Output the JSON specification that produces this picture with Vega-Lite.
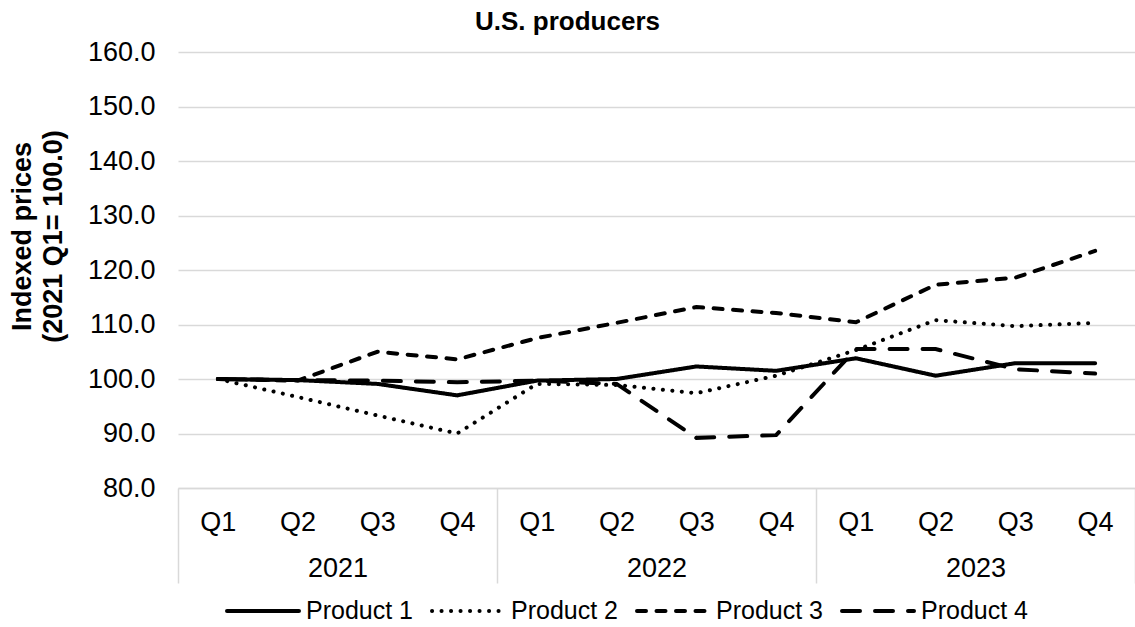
{
  "$schema": "https://vega.github.io/schema/vega-lite/v6.json",
  "width": 957,
  "height": 436,
  "autosize": {"type": "none"},
  "padding": {"left": 178, "top": 52, "right": 0, "bottom": 139},
  "title": {"text": "U.S. producers", "fontSize": 26, "fontWeight": "bold", "font": "Liberation Sans", "color": "#000000", "anchor": "middle", "frame": "group", "baseline": "bottom", "offset": -23, "dx": -89},
  "config": {
    "view": {"stroke": null},
    "font": "Liberation Sans",
    "axis": {"labelColor": "#000000", "titleColor": "#000000", "labelFont": "Liberation Sans", "titleFont": "Liberation Sans"},
    "legend": {"labelFont": "Liberation Sans", "labelColor": "#000000"}
  },
  "datasets": {
    "prices": [
      {"period": "2021 Q1", "product": "Product 1", "value": 100.0},
      {"period": "2021 Q2", "product": "Product 1", "value": 99.8},
      {"period": "2021 Q3", "product": "Product 1", "value": 99.1},
      {"period": "2021 Q4", "product": "Product 1", "value": 97.0},
      {"period": "2022 Q1", "product": "Product 1", "value": 99.7},
      {"period": "2022 Q2", "product": "Product 1", "value": 100.0},
      {"period": "2022 Q3", "product": "Product 1", "value": 102.3},
      {"period": "2022 Q4", "product": "Product 1", "value": 101.5},
      {"period": "2023 Q1", "product": "Product 1", "value": 103.8},
      {"period": "2023 Q2", "product": "Product 1", "value": 100.6},
      {"period": "2023 Q3", "product": "Product 1", "value": 102.9},
      {"period": "2023 Q4", "product": "Product 1", "value": 102.9},
      {"period": "2021 Q1", "product": "Product 2", "value": 100.0},
      {"period": "2021 Q2", "product": "Product 2", "value": 96.7},
      {"period": "2021 Q3", "product": "Product 2", "value": 93.3},
      {"period": "2021 Q4", "product": "Product 2", "value": 90.0},
      {"period": "2022 Q1", "product": "Product 2", "value": 99.1},
      {"period": "2022 Q2", "product": "Product 2", "value": 98.9},
      {"period": "2022 Q3", "product": "Product 2", "value": 97.4},
      {"period": "2022 Q4", "product": "Product 2", "value": 100.6},
      {"period": "2023 Q1", "product": "Product 2", "value": 105.3},
      {"period": "2023 Q2", "product": "Product 2", "value": 110.8},
      {"period": "2023 Q3", "product": "Product 2", "value": 109.7},
      {"period": "2023 Q4", "product": "Product 2", "value": 110.3},
      {"period": "2021 Q1", "product": "Product 3", "value": 100.0},
      {"period": "2021 Q2", "product": "Product 3", "value": 99.7},
      {"period": "2021 Q3", "product": "Product 3", "value": 105.0},
      {"period": "2021 Q4", "product": "Product 3", "value": 103.6},
      {"period": "2022 Q1", "product": "Product 3", "value": 107.5},
      {"period": "2022 Q2", "product": "Product 3", "value": 110.3},
      {"period": "2022 Q3", "product": "Product 3", "value": 113.2},
      {"period": "2022 Q4", "product": "Product 3", "value": 112.1},
      {"period": "2023 Q1", "product": "Product 3", "value": 110.4},
      {"period": "2023 Q2", "product": "Product 3", "value": 117.3},
      {"period": "2023 Q3", "product": "Product 3", "value": 118.6},
      {"period": "2023 Q4", "product": "Product 3", "value": 123.5},
      {"period": "2021 Q1", "product": "Product 4", "value": 100.0},
      {"period": "2021 Q2", "product": "Product 4", "value": 99.8},
      {"period": "2021 Q3", "product": "Product 4", "value": 99.7},
      {"period": "2021 Q4", "product": "Product 4", "value": 99.4},
      {"period": "2022 Q1", "product": "Product 4", "value": 99.7},
      {"period": "2022 Q2", "product": "Product 4", "value": 99.1},
      {"period": "2022 Q3", "product": "Product 4", "value": 89.2},
      {"period": "2022 Q4", "product": "Product 4", "value": 89.7},
      {"period": "2023 Q1", "product": "Product 4", "value": 105.5},
      {"period": "2023 Q2", "product": "Product 4", "value": 105.5},
      {"period": "2023 Q3", "product": "Product 4", "value": 101.8},
      {"period": "2023 Q4", "product": "Product 4", "value": 101.0}
    ],
    "years": [
      {"year": "2021"},
      {"year": "2022"},
      {"year": "2023"}
    ]
  },
  "layer": [
    {
      "data": {"name": "prices"},
      "mark": {"type": "line", "color": "#000000", "strokeWidth": 4, "strokeCap": "round"},
      "encoding": {
        "x": {
          "field": "period",
          "type": "ordinal",
          "scale": {"type": "point", "padding": 0.5},
          "axis": {
            "title": null,
            "labelExpr": "split(datum.value, ' ')[1]",
            "labelAngle": 0,
            "labelFontSize": 27,
            "labelPadding": 21,
            "ticks": false,
            "domainColor": "#d9d9d9",
            "domainWidth": 1.5,
            "grid": false
          }
        },
        "y": {
          "field": "value",
          "type": "quantitative",
          "scale": {"domain": [80, 160], "zero": false, "nice": false},
          "axis": {
            "values": [80, 90, 100, 110, 120, 130, 140, 150, 160],
            "format": ".1f",
            "labelFontSize": 27,
            "labelPadding": 23,
            "ticks": false,
            "domain": false,
            "grid": true,
            "gridColor": "#d9d9d9",
            "gridWidth": 1.5,
            "title": ["Indexed prices", "(2021 Q1= 100.0)"],
            "titleFontSize": 27,
            "titleFontWeight": "bold",
            "titleLineHeight": 31,
            "titlePadding": 20,
            "titleY": 184
          }
        },
        "strokeDash": {
          "field": "product",
          "type": "nominal",
          "scale": {
            "domain": ["Product 1", "Product 2", "Product 3", "Product 4"],
            "range": [[1, 0], [0.1, 9.4], [9, 10.5], [18, 15]]
          },
          "legend": {
            "title": null,
            "orient": "none",
            "direction": "horizontal",
            "legendX": 47,
            "legendY": 521,
            "symbolType": "stroke",
            "symbolSize": 5184,
            "symbolStrokeWidth": 4,
            "symbolStrokeColor": "#000000",
            "labelFontSize": 25,
            "labelOffset": 5,
            "columnPadding": 10,
            "encode": {"symbols": {"update": {"strokeCap": {"value": "round"}}}}
          }
        }
      }
    },
    {
      "data": {"name": "years"},
      "mark": {"type": "point", "opacity": 0},
      "encoding": {
        "x": {
          "field": "year",
          "type": "ordinal",
          "scale": {"type": "band", "paddingInner": 0, "paddingOuter": 0},
          "axis": {
            "title": null,
            "orient": "bottom",
            "labelAngle": 0,
            "labelFontSize": 27,
            "tickBand": "extent",
            "ticks": true,
            "tickSize": 95,
            "tickColor": "#d9d9d9",
            "tickWidth": 1.5,
            "labelPadding": -28,
            "domain": false,
            "grid": false
          }
        }
      }
    }
  ],
  "resolve": {"scale": {"x": "independent"}, "axis": {"x": "independent"}}
}
